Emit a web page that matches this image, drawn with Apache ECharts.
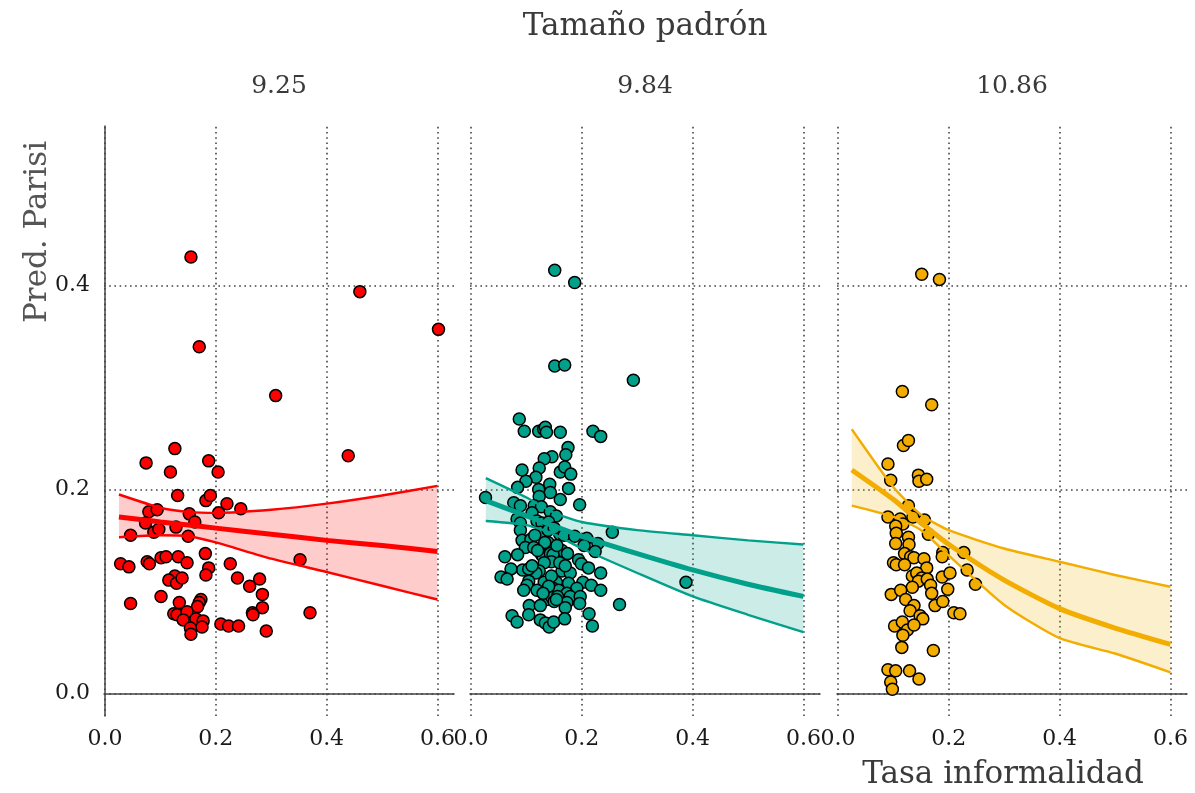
<!DOCTYPE html>
<html>
<head>
<meta charset="utf-8">
<script src="https://cdn.jsdelivr.net/npm/echarts@6/dist/echarts.min.js"></script>
<style>
  html, body { margin: 0; padding: 0; background: #ffffff; }
  #chart { width: 1195px; height: 793px; }
</style>
</head>
<body>
<div id="chart"></div>
<script>
// Facets: size of the electoral roll (log scale)
const facetLabels = ['9.25', '9.84', '10.86'];
const xTicks = [0, 0.2, 0.4, 0.6];
const yTicks = [0, 0.2, 0.4];
const pointColors = ['#FF0000', '#00A08A', '#F2AD00'];
const bandFills = ['rgba(255,0,0,0.2)', 'rgba(0,160,138,0.2)', 'rgba(242,173,0,0.2)'];

// Observed municipalities: [informality rate, predicted Parisi]
const points925 = [
  [0.155,0.428],[0.460,0.394],[0.602,0.357],[0.170,0.340],[0.308,0.292],
  [0.126,0.240],[0.074,0.226],[0.187,0.228],[0.118,0.217],[0.204,0.217],[0.439,0.233],
  [0.131,0.194],[0.182,0.189],[0.190,0.194],[0.220,0.186],[0.245,0.181],[0.205,0.177],
  [0.079,0.178],[0.094,0.180],[0.152,0.176],[0.162,0.168],[0.073,0.167],[0.128,0.163],
  [0.088,0.158],[0.097,0.161],[0.046,0.155],[0.150,0.154],[0.352,0.131],[0.028,0.127],
  [0.043,0.124],[0.076,0.129],[0.080,0.127],[0.101,0.133],[0.110,0.134],[0.132,0.134],
  [0.148,0.128],[0.181,0.137],[0.187,0.123],[0.182,0.116],[0.226,0.127],[0.126,0.115],
  [0.115,0.111],[0.129,0.108],[0.139,0.113],[0.239,0.113],[0.279,0.112],[0.261,0.105],
  [0.284,0.097],[0.101,0.095],[0.046,0.088],[0.134,0.089],[0.173,0.092],[0.170,0.089],
  [0.167,0.085],[0.284,0.084],[0.266,0.079],[0.267,0.077],[0.370,0.079],[0.124,0.078],
  [0.130,0.077],[0.148,0.080],[0.141,0.072],[0.164,0.073],[0.177,0.071],[0.175,0.065],
  [0.154,0.064],[0.155,0.058],[0.209,0.068],[0.223,0.066],[0.241,0.066],[0.291,0.061]
];
const points984 = [
  [0.151,0.415],[0.187,0.403],[0.151,0.321],[0.169,0.322],[0.293,0.307],
  [0.388,0.109],[0.255,0.158],[0.268,0.087],[0.026,0.192],
  [0.087,0.269],[0.096,0.257],[0.122,0.257],[0.131,0.259],[0.134,0.261],[0.136,0.256],
  [0.161,0.256],[0.220,0.257],[0.234,0.252],[0.175,0.241],[0.171,0.234],[0.146,0.232],
  [0.132,0.230],[0.092,0.219],[0.123,0.221],[0.161,0.217],[0.169,0.222],[0.180,0.215],
  [0.117,0.212],[0.099,0.208],[0.084,0.202],[0.142,0.205],[0.122,0.200],[0.143,0.197],
  [0.176,0.201],[0.123,0.193],[0.161,0.190],[0.077,0.187],[0.089,0.184],[0.114,0.184],
  [0.127,0.183],[0.196,0.185],[0.110,0.177],[0.143,0.178],[0.154,0.174],[0.083,0.171],
  [0.089,0.167],[0.119,0.169],[0.128,0.167],[0.140,0.168],[0.089,0.160],[0.125,0.158],
  [0.160,0.156],[0.168,0.155],[0.187,0.154],[0.209,0.152],[0.229,0.147],[0.224,0.139],
  [0.204,0.145],[0.092,0.150],[0.108,0.151],[0.098,0.143],[0.113,0.143],[0.139,0.148],
  [0.164,0.140],[0.174,0.137],[0.127,0.136],[0.130,0.134],[0.143,0.137],[0.148,0.136],
  [0.061,0.134],[0.084,0.136],[0.194,0.131],[0.199,0.127],[0.212,0.123],[0.145,0.129],
  [0.132,0.128],[0.123,0.120],[0.117,0.118],[0.093,0.121],[0.104,0.122],[0.072,0.122],
  [0.234,0.118],[0.164,0.120],[0.179,0.118],[0.054,0.114],[0.065,0.112],[0.104,0.110],
  [0.101,0.106],[0.132,0.109],[0.154,0.109],[0.176,0.108],[0.202,0.109],[0.217,0.106],
  [0.234,0.101],[0.095,0.101],[0.119,0.101],[0.148,0.103],[0.158,0.101],[0.191,0.103],
  [0.173,0.098],[0.179,0.095],[0.137,0.092],[0.146,0.094],[0.156,0.095],[0.197,0.095],
  [0.196,0.088],[0.173,0.089],[0.170,0.084],[0.105,0.086],[0.125,0.086],[0.150,0.090],
  [0.154,0.092],[0.213,0.078],[0.219,0.066],[0.074,0.076],[0.083,0.070],[0.104,0.077],
  [0.125,0.072],[0.134,0.069],[0.141,0.065],[0.149,0.070],[0.169,0.073],
  [0.139,0.160],[0.150,0.162],[0.115,0.155],[0.133,0.148],[0.160,0.128],[0.145,0.115],
  [0.120,0.140],[0.155,0.145],[0.110,0.125],[0.170,0.125],[0.140,0.105],[0.130,0.098]
];
const points1086 = [
  [0.151,0.411],[0.183,0.406],[0.116,0.296],[0.169,0.283],[0.118,0.243],[0.127,0.248],
  [0.090,0.225],[0.095,0.209],[0.145,0.214],[0.146,0.208],[0.160,0.210],[0.127,0.184],
  [0.090,0.173],[0.112,0.171],[0.117,0.166],[0.104,0.164],[0.105,0.157],[0.135,0.173],
  [0.156,0.170],[0.163,0.156],[0.127,0.153],[0.128,0.146],[0.104,0.147],[0.189,0.138],
  [0.188,0.134],[0.227,0.138],[0.233,0.121],[0.248,0.107],[0.120,0.137],[0.131,0.134],
  [0.137,0.133],[0.155,0.132],[0.100,0.128],[0.105,0.126],[0.120,0.126],[0.160,0.123],
  [0.134,0.115],[0.142,0.118],[0.151,0.113],[0.145,0.110],[0.188,0.114],[0.202,0.118],
  [0.161,0.112],[0.167,0.106],[0.134,0.104],[0.096,0.097],[0.113,0.101],[0.169,0.098],
  [0.198,0.102],[0.122,0.092],[0.175,0.086],[0.189,0.090],[0.137,0.086],[0.130,0.081],
  [0.148,0.076],[0.153,0.073],[0.209,0.079],[0.220,0.078],[0.102,0.066],[0.116,0.070],
  [0.125,0.062],[0.137,0.067],[0.117,0.057],[0.115,0.045],[0.172,0.042],[0.090,0.023],
  [0.104,0.022],[0.129,0.022],[0.146,0.014],[0.095,0.011],[0.098,0.004]
];

// Fitted curve and 95% interval, read at the same x positions
const fitX925 = [0.025, 0.1, 0.15, 0.2, 0.3, 0.4, 0.5, 0.6];
const fitMean925 = [0.173, 0.168, 0.165, 0.162, 0.156, 0.150, 0.145, 0.139];
const fitLow925 = [0.153, 0.155, 0.154, 0.148, 0.132, 0.119, 0.1055, 0.092];
const fitHigh925 = [0.195, 0.182, 0.178, 0.177, 0.180, 0.186, 0.194, 0.2035];

const fitX984 = [0.0265, 0.1, 0.15, 0.2, 0.3, 0.4, 0.5, 0.6];
const fitMean984 = [0.189, 0.174, 0.164, 0.154, 0.137, 0.121, 0.107, 0.095];
const fitLow984 = [0.169, 0.165, 0.156, 0.142, 0.118, 0.095, 0.077, 0.060];
const fitHigh984 = [0.211, 0.192, 0.177, 0.168, 0.160, 0.155, 0.150, 0.146];

const fitX1086 = [0.0247, 0.1, 0.15, 0.2, 0.3, 0.4, 0.5, 0.6];
const fitMean1086 = [0.219, 0.190, 0.167, 0.146, 0.111, 0.083, 0.064, 0.048];
const fitLow1086 = [0.184, 0.173, 0.160, 0.135, 0.0866, 0.054, 0.039, 0.0206];
const fitHigh1086 = [0.259, 0.202, 0.175, 0.160, 0.142, 0.129, 0.116, 0.1045];

const panels = [
  { label: facetLabels[0], points: points925, fx: fitX925, mean: fitMean925, lo: fitLow925, hi: fitHigh925 },
  { label: facetLabels[1], points: points984, fx: fitX984, mean: fitMean984, lo: fitLow984, hi: fitHigh984 },
  { label: facetLabels[2], points: points1086, fx: fitX1086, mean: fitMean1086, lo: fitLow1086, hi: fitHigh1086 }
];

const SERIF = 'DejaVu Serif';
const gridLefts = [104, 470, 837];
const gridWidth = 350;
const gridTop = 126;
const gridHeight = 590;
const fmt1 = v => Number(v).toFixed(1);
const dotted = { color: '#444', width: 1.6, type: [1.6, 3.6] };
const SMOOTH = 0.2;

const grids = [], xAxes = [], yAxes = [], series = [], graphics = [];

panels.forEach((p, i) => {
  grids.push({ left: gridLefts[i], top: gridTop, width: gridWidth, height: gridHeight });
  xAxes.push({
    type: 'value', gridIndex: i, min: -0.002, max: 0.63,
    axisLine: { show: true, lineStyle: { color: '#444', width: 1.5 } },
    axisTick: { show: false },
    splitLine: { show: false },
    axisLabel: {
      customValues: xTicks, formatter: fmt1, margin: 12,
      fontFamily: SERIF, fontSize: 22, color: '#1a1a1a'
    }
  });
  yAxes.push({
    type: 'value', gridIndex: i, min: -0.0223, max: 0.5565,
    axisLine: { show: i === 0, lineStyle: { color: '#444', width: 1.5 } },
    axisTick: { show: false },
    splitLine: { show: false },
    axisLabel: i === 0 ? {
      customValues: yTicks, formatter: fmt1, margin: 14,
      fontFamily: SERIF, fontSize: 22, color: '#1a1a1a'
    } : { show: false }
  });

  const col = pointColors[i];

  // shaded interval between lower and upper bound
  series.push({
    type: 'custom', xAxisIndex: i, yAxisIndex: i, silent: true,
    data: p.fx.map((x, k) => [x, p.lo[k], p.hi[k]]),
    encode: { x: 0, y: [1, 2] },
    renderItem: (params, api) => {
      if (params.dataIndex !== 0) return null;
      const upper = p.fx.map((x, k) => api.coord([x, p.hi[k]]));
      const lower = p.fx.map((x, k) => api.coord([x, p.lo[k]])).reverse();
      return {
        type: 'polygon',
        shape: { points: upper.concat(lower) },
        style: { fill: bandFills[i] }
      };
    },
    // dotted reference lines at the tick positions
    markLine: {
      silent: true, symbol: 'none', z: 1, animation: false,
      label: { show: false },
      lineStyle: dotted,
      data: xTicks.map(v => ({ xAxis: v })).concat(yTicks.map(v => ({ yAxis: v })))
    }
  });
  // interval edges
  [p.lo, p.hi].forEach(bound => {
    series.push({
      type: 'line', xAxisIndex: i, yAxisIndex: i,
      data: p.fx.map((x, k) => [x, bound[k]]),
      symbol: 'none', smooth: SMOOTH,
      lineStyle: { color: col, width: 2.4 },
      silent: true
    });
  });
  // fitted curve
  series.push({
    type: 'line', xAxisIndex: i, yAxisIndex: i,
    data: p.fx.map((x, k) => [x, p.mean[k]]),
    symbol: 'none', smooth: SMOOTH,
    lineStyle: { color: col, width: 5 },
    silent: true
  });
  // observations
  series.push({
    type: 'scatter', xAxisIndex: i, yAxisIndex: i,
    data: p.points,
    symbol: 'circle', symbolSize: 12,
    itemStyle: { color: col, borderColor: '#000', borderWidth: 1.5, opacity: 1 },
    silent: true
  });

  graphics.push({
    type: 'text', x: gridLefts[i] + gridWidth / 2, y: 86,
    style: { text: p.label, font: '25px "DejaVu Serif"', fill: '#3a3a3a', align: 'center', verticalAlign: 'middle' }
  });
});

graphics.push({
  type: 'text', x: 645, y: 27,
  style: { text: 'Tamaño padrón', font: '31px "DejaVu Serif"', fill: '#3a3a3a', align: 'center', verticalAlign: 'middle' }
});
graphics.push({
  type: 'text', x: 38, y: 232, rotation: Math.PI / 2,
  style: { text: 'Pred. Parisi', font: '31px "DejaVu Serif"', fill: '#555', align: 'center', verticalAlign: 'middle' }
});
graphics.push({
  type: 'text', x: 1003, y: 775,
  style: { text: 'Tasa informalidad', font: '31px "DejaVu Serif"', fill: '#3a3a3a', align: 'center', verticalAlign: 'middle' }
});

const chart = echarts.init(document.getElementById('chart'), null, { renderer: 'canvas' });
chart.setOption({
  backgroundColor: '#ffffff',
  animation: false,
  grid: grids,
  xAxis: xAxes,
  yAxis: yAxes,
  series: series,
  graphic: graphics
});
</script>
</body>
</html>
